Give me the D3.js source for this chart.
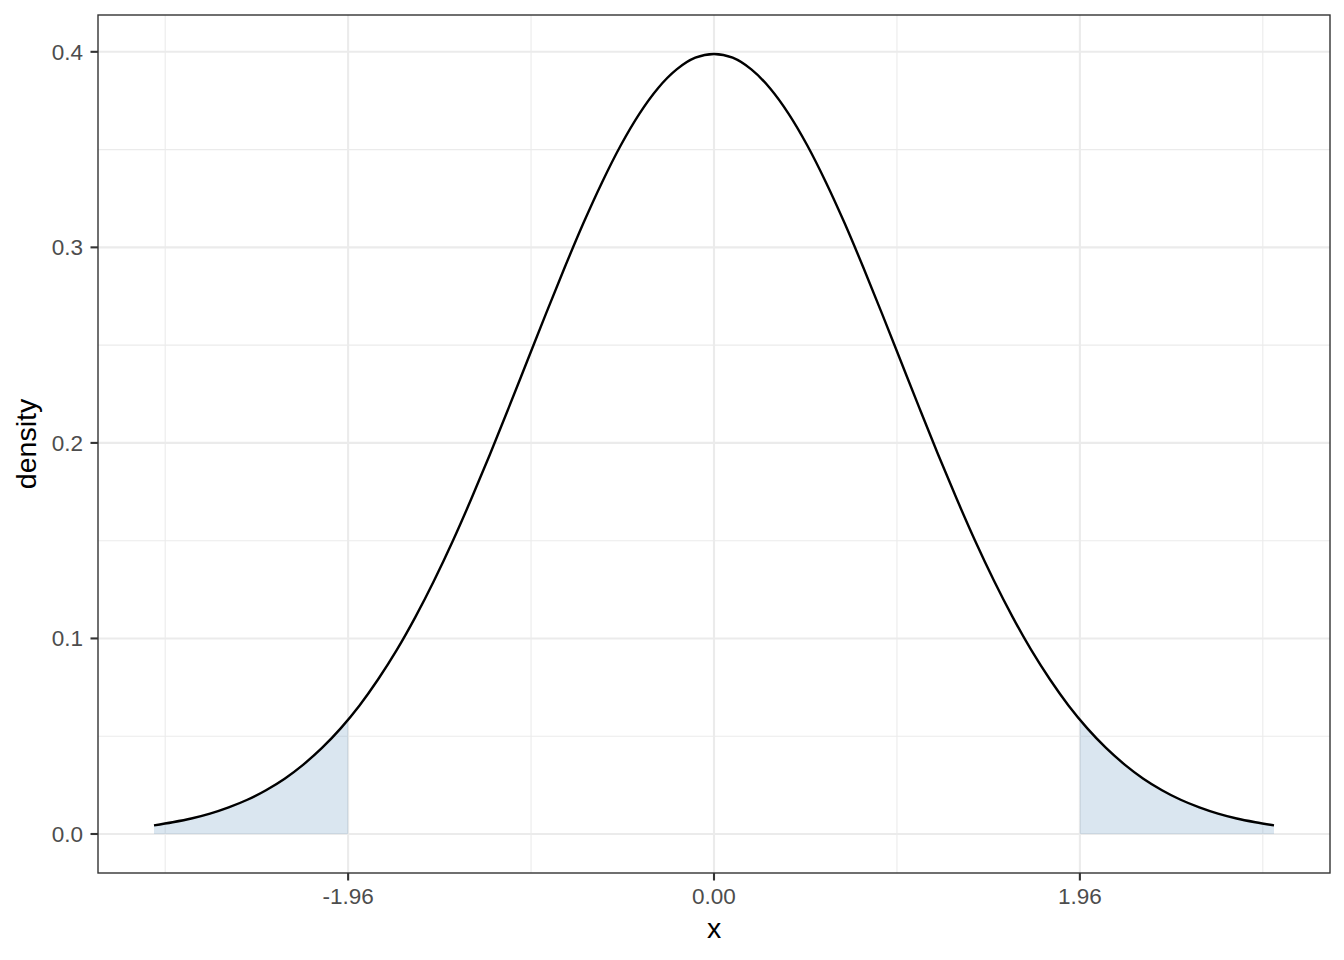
<!DOCTYPE html>
<html><head><meta charset="utf-8">
<script src="https://cdn.jsdelivr.net/npm/d3@7"></script>
<style>body{margin:0;background:#fff}svg{display:block}text{font-family:"Liberation Sans",Arial,sans-serif}</style>
</head><body><svg id="c" width="1344" height="960"></svg>
<script>
// density curve values (x from -3 to 3 by 0.1)
const xs = [-3.0,-2.9,-2.8,-2.7,-2.6,-2.5,-2.4,-2.3,-2.2,-2.1,-2.0,-1.9,-1.8,-1.7,-1.6,-1.5,-1.4,-1.3,-1.2,-1.1,-1.0,-0.9,-0.8,-0.7,-0.6,-0.5,-0.4,-0.3,-0.2,-0.1,0.0,0.1,0.2,0.3,0.4,0.5,0.6,0.7,0.8,0.9,1.0,1.1,1.2,1.3,1.4,1.5,1.6,1.7,1.8,1.9,2.0,2.1,2.2,2.3,2.4,2.5,2.6,2.7,2.8,2.9,3.0];
const dens = [0.0044,0.0060,0.0079,0.0104,0.0136,0.0175,0.0224,0.0283,0.0355,0.0440,0.0540,0.0656,0.0790,0.0940,0.1109,0.1295,0.1497,0.1714,0.1942,0.2179,0.2420,0.2661,0.2897,0.3123,0.3332,0.3521,0.3683,0.3814,0.3910,0.3970,0.3989,0.3970,0.3910,0.3814,0.3683,0.3521,0.3332,0.3123,0.2897,0.2661,0.2420,0.2179,0.1942,0.1714,0.1497,0.1295,0.1109,0.0940,0.0790,0.0656,0.0540,0.0440,0.0355,0.0283,0.0224,0.0175,0.0136,0.0104,0.0079,0.0060,0.0044];
// shaded tails
const leftTailX = [-3.0,-2.9,-2.8,-2.7,-2.6,-2.5,-2.4,-2.3,-2.2,-2.1,-2.0,-1.96];
const leftTailY = [0.0044,0.0060,0.0079,0.0104,0.0136,0.0175,0.0224,0.0283,0.0355,0.0440,0.0540,0.0584];
const rightTailX = [1.96,2.0,2.1,2.2,2.3,2.4,2.5,2.6,2.7,2.8,2.9,3.0];
const rightTailY = [0.0584,0.0540,0.0440,0.0355,0.0283,0.0224,0.0175,0.0136,0.0104,0.0079,0.0060,0.0044];
const xBreaks = [-1.96, 0, 1.96];
const xLabels = ["-1.96","0.00","1.96"];
const xMinor = [-2.94,-0.98,0.98,2.94];
const yBreaks = [0,0.1,0.2,0.3,0.4];
const yLabels = ["0.0","0.1","0.2","0.3","0.4"];
const yMinor = [0.05,0.15,0.25,0.35];

const L=98,R=1330,T=15,B=873;
const svg=d3.select("#c");
const x=d3.scaleLinear().domain([-3.3,3.3]).range([L,R]);
const y=d3.scaleLinear().domain([-0.01995,0.41883]).range([B,T]);

const g=svg.append("g");
// grid
g.selectAll(".xm").data(xMinor).join("line").attr("x1",d=>x(d)).attr("x2",d=>x(d)).attr("y1",T).attr("y2",B).attr("stroke","#ebebeb").attr("stroke-width",1.1);
g.selectAll(".ym").data(yMinor).join("line").attr("y1",d=>y(d)).attr("y2",d=>y(d)).attr("x1",L).attr("x2",R).attr("stroke","#ebebeb").attr("stroke-width",1.1);
g.selectAll(".xM").data(xBreaks).join("line").attr("x1",d=>x(d)).attr("x2",d=>x(d)).attr("y1",T).attr("y2",B).attr("stroke","#ebebeb").attr("stroke-width",2.1);
g.selectAll(".yM").data(yBreaks).join("line").attr("y1",d=>y(d)).attr("y2",d=>y(d)).attr("x1",L).attr("x2",R).attr("stroke","#ebebeb").attr("stroke-width",2.1);

const area=d3.area().x(d=>x(d[0])).y0(y(0)).y1(d=>y(d[1])).curve(d3.curveMonotoneX);
[[leftTailX,leftTailY],[rightTailX,rightTailY]].forEach(([a,b])=>{
  g.append("path").attr("d",area(a.map((v,i)=>[v,b[i]]))).attr("fill","steelblue").attr("fill-opacity",0.2);
});
const line=d3.line().x(d=>x(d[0])).y(d=>y(d[1])).curve(d3.curveMonotoneX);
g.append("path").attr("d",line(xs.map((v,i)=>[v,dens[i]]))).attr("fill","none").attr("stroke","#000").attr("stroke-width",2.4);

// panel border
g.append("rect").attr("x",L).attr("y",T).attr("width",R-L).attr("height",B-T).attr("fill","none").attr("stroke","#333").attr("stroke-width",1.4);

// ticks
g.selectAll(".xt").data(xBreaks).join("line").attr("x1",d=>x(d)).attr("x2",d=>x(d)).attr("y1",B).attr("y2",B+7.5).attr("stroke","#333").attr("stroke-width",2.1);
g.selectAll(".yt").data(yBreaks).join("line").attr("y1",d=>y(d)).attr("y2",d=>y(d)).attr("x1",L-7.5).attr("x2",L).attr("stroke","#333").attr("stroke-width",2.1);
g.selectAll(".xl").data(xBreaks).join("text").attr("x",d=>x(d)).attr("y",904).attr("text-anchor","middle").attr("font-size",22.5).attr("fill","#4d4d4d").text((d,i)=>xLabels[i]);
g.selectAll(".yl").data(yBreaks).join("text").attr("x",L-15).attr("y",d=>y(d)+8).attr("text-anchor","end").attr("font-size",22.5).attr("fill","#4d4d4d").text((d,i)=>yLabels[i]);

svg.append("text").attr("x",(L+R)/2).attr("y",938).attr("text-anchor","middle").attr("font-size",28.5).attr("fill","#000").text("x");
svg.append("text").attr("transform",`translate(36,${(T+B)/2}) rotate(-90)`).attr("text-anchor","middle").attr("font-size",28.5).attr("fill","#000").text("density");
</script></body></html>
